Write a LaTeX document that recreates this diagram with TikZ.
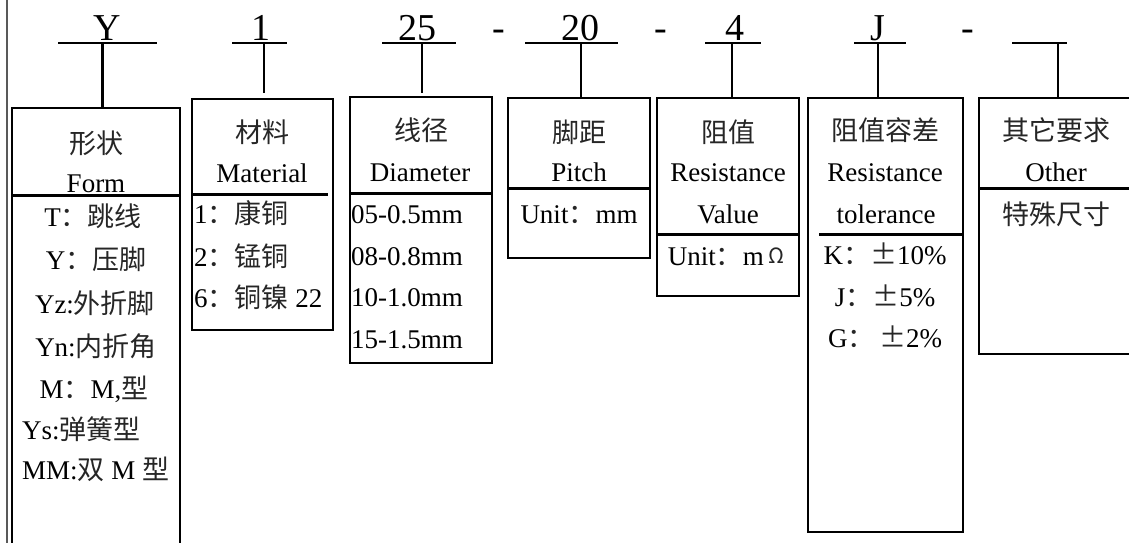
\documentclass[tikz,border=0pt]{standalone}
\usepackage{fontspec}
\setmainfont{Liberation Serif}
\newfontfamily\cjkf{Noto Sans CJK SC}
\newcommand{\zh}[1]{{\cjkf\color{black!85}#1}}
\tikzset{
  bx/.style={draw, line width=2pt, anchor=north west, inner sep=0pt, outer sep=0pt},
  sepline/.style={line width=3pt},
  lb/.style={font=\fontsize{27}{32}\selectfont, anchor=base, inner sep=0pt},
  lbw/.style={font=\fontsize{27}{32}\selectfont, anchor=base west, inner sep=0pt},
  toplab/.style={font=\fontsize{38}{44}\selectfont, anchor=base, inner sep=0pt},
  uline/.style={line width=1.5pt},
  conn/.style={line width=1.5pt}
}
\begin{document}
\begin{tikzpicture}[x=1pt,y=-1pt]
\useasboundingbox (0,0) rectangle (1129,542);
\clip (0,0) rectangle (1129,542);
% page border line
\draw[line width=2pt, black!65] (6.5,-5) -- (6.5,560);

% boxes
\node[bx, minimum width=168pt, minimum height=460pt] (form) at (12,108) {};
\node[bx, minimum width=141pt, minimum height=231pt] (mat) at (192,99) {};
\node[bx, minimum width=142pt, minimum height=266pt] (dia) at (350,97) {};
\node[bx, minimum width=142pt, minimum height=160pt] (pit) at (508,98) {};
\node[bx, minimum width=142pt, minimum height=198pt] (res) at (657,98) {};
\node[bx, minimum width=155pt, minimum height=434pt] (tol) at (808,98) {};
\node[bx, minimum width=170pt, minimum height=256pt] (oth) at (979,98) {};

% separators
\coordinate (sfa) at (12,195);  \coordinate (sfb) at (180,195);
\draw[sepline] (sfa) -- (sfb);
\coordinate (sma) at (192,194); \coordinate (smb) at (328,194);
\draw[sepline] (sma) -- (smb);
\coordinate (sda) at (350,193); \coordinate (sdb) at (491,193);
\draw[sepline] (sda) -- (sdb);
\coordinate (spa) at (508,188); \coordinate (spb) at (651,188);
\draw[sepline] (spa) -- (spb);
\coordinate (sra) at (657,234); \coordinate (srb) at (800,234);
\draw[sepline] (sra) -- (srb);
\coordinate (sta) at (819,234); \coordinate (stb) at (963,234);
\draw[sepline] (sta) -- (stb);
\coordinate (soa) at (979,188); \coordinate (sob) at (1140,188);
\draw[sepline] (soa) -- (sob);

% top labels
\node[toplab] (tY) at (107,40) {Y};
\node[toplab] (t1) at (261,40) {1};
\node[toplab] (t25) at (417,40) {25};
\node[toplab] (d1) at (499,40) {-};
\node[toplab] (t20) at (580,40) {20};
\node[toplab] (d2) at (661,40) {-};
\node[toplab] (t4) at (735,40) {4};
\node[toplab] (tJ) at (878,40) {J};
\node[toplab] (d3) at (968,40) {-};

% underlines
\coordinate (uYa) at (58,43);   \coordinate (uYb) at (157,43);
\coordinate (u1a) at (232,43);  \coordinate (u1b) at (287,43);
\coordinate (u25a) at (382,43); \coordinate (u25b) at (456,43);
\coordinate (u20a) at (525,43); \coordinate (u20b) at (618,43);
\coordinate (u4a) at (705,43);  \coordinate (u4b) at (761,43);
\coordinate (uJa) at (854,43);  \coordinate (uJb) at (906,43);
\coordinate (uOa) at (1012,43); \coordinate (uOb) at (1067,43);
\foreach \n in {Y,1,25,20,4,J,O} { \draw[uline] (u\n a) -- (u\n b); }

% connectors
\coordinate (cY) at (102,43);
\coordinate (c1) at (264,43);
\coordinate (c25) at (422,43);
\coordinate (c20) at (581,43);
\coordinate (c4) at (732,43);
\coordinate (cJ) at (878,43);
\coordinate (cO) at (1058,43);
\draw[conn, line width=3pt] (cY) -- (cY |- form.north);
\draw[conn, shorten >=6pt] (c1) -- (c1 |- mat.north);
\draw[conn, shorten >=4pt] (c25) -- (c25 |- dia.north);
\draw[conn] (c20) -- (c20 |- pit.north);
\draw[conn] (c4) -- (c4 |- res.north);
\draw[conn] (cJ) -- (cJ |- tol.north);
\draw[conn] (cO) -- (cO |- oth.north);

% Form box texts
\node[lb] (f1) at (96,153) {\zh{形状}};
\node[lb] (f2) at (96,192) {Form};
\node[lb] (f3) at (93,226) {T\zh{：}\zh{跳线}};
\node[lb] (f4) at (96,269) {Y\zh{：}\zh{压脚}};
\node[lb] (f5) at (95,313) {Yz:\zh{外折脚}};
\node[lb] (f6) at (96,356) {Yn:\zh{内折角}};
\node[lb] (f7) at (94,398) {M\zh{：}M,\zh{型}};
\node[lbw] (f8) at (22,439) {Ys:\zh{弹簧型}};
\node[lbw] (f9) at (22,479) {MM:\zh{双} M \zh{型}};

% Material
\node[lb] (m1) at (262,142) {\zh{材料}};
\node[lb] (m2) at (262,182) {Material};
\node[lbw] (m3) at (194,223) {1\zh{：}\zh{康铜}};
\node[lbw] (m4) at (194,266) {2\zh{：}\zh{锰铜}};
\node[lbw] (m5) at (194,307) {6\zh{：}\zh{铜镍} 22};

% Diameter
\node[lb] (g1) at (421,140) {\zh{线径}};
\node[lb] (g2) at (420,181) {Diameter};
\node[lbw] (g3) at (351,223) {05-0.5mm};
\node[lbw] (g4) at (351,265) {08-0.8mm};
\node[lbw] (g5) at (351,306) {10-1.0mm};
\node[lbw] (g6) at (351,348) {15-1.5mm};

% Pitch
\node[lb] (p1) at (579,142) {\zh{脚距}};
\node[lb] (p2) at (579,181) {Pitch};
\node[lb] (p3) at (579,223) {Unit\zh{：}mm};

% Resistance value
\node[lb] (r1) at (728,142) {\zh{阻值}};
\node[lb] (r2) at (728,181) {Resistance};
\node[lb] (r3) at (728,223) {Value};
\node[lb] (r4) at (726,265) {Unit\zh{：}m\,\raisebox{2pt}{\zh{\fontsize{21}{24}\selectfont Ω}}};

% Tolerance
\node[lb] (k1) at (885,140) {\zh{阻值容差}};
\node[lb] (k2) at (885,181) {Resistance};
\node[lb] (k3) at (886,223) {tolerance};
\node[lb] (k4) at (885,264) {K\zh{：}\zh{±}10\%};
\node[lb] (k5) at (885,306) {J\zh{：}\zh{±}5\%};
\node[lb] (k6) at (885,347) {G\zh{：}\,\zh{±}2\%};

% Other
\node[lb] (o1) at (1056,140) {\zh{其它要求}};
\node[lb] (o2) at (1056,181) {Other};
\node[lb] (o3) at (1056,224) {\zh{特殊尺寸}};
\end{tikzpicture}
\end{document}
